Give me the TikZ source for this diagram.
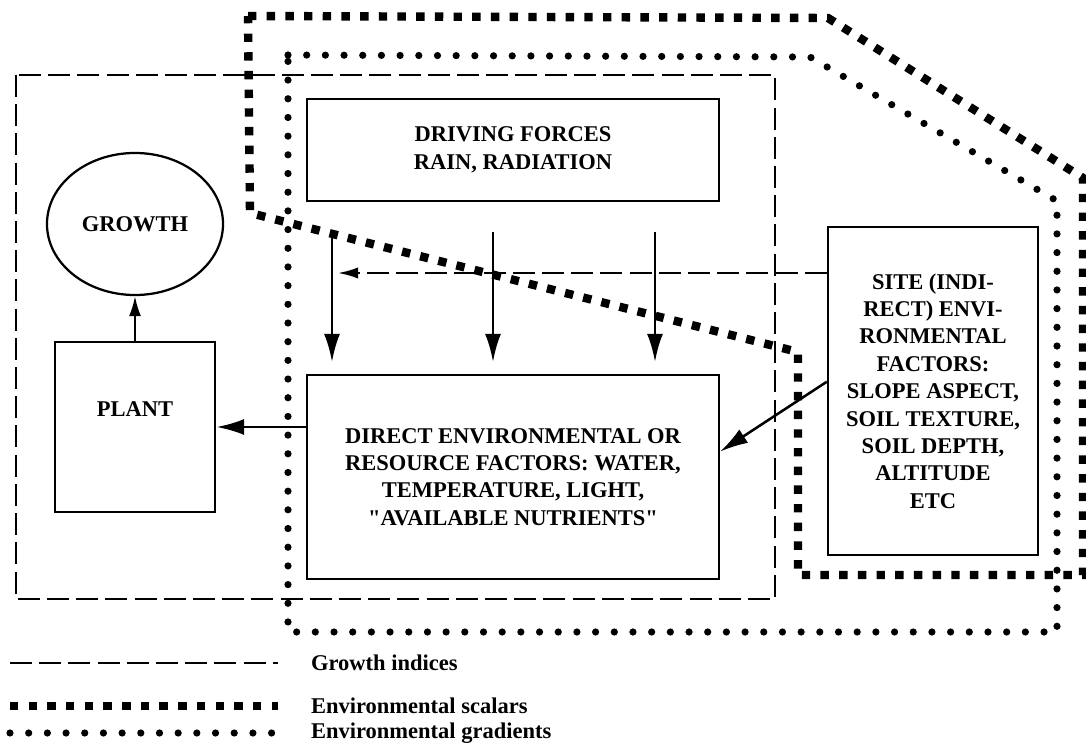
\documentclass[tikz,border=0pt]{standalone}
\usepackage{fontspec}
\setmainfont{Liberation Serif}
\usetikzlibrary{shapes.geometric}
\usetikzlibrary{arrows.meta}

\begin{document}
\begin{tikzpicture}
          [x=0.025cm, y=-0.025cm, line width=1.6pt,
           >={Latex[length=7mm,width=4mm]},
           box/.style = {draw, align=center, inner sep=0pt, font=\fontsize{16}{19.5}\selectfont\bfseries},
           growthline/.style = {line width=1.5pt, dash pattern=on 5.5mm off 1.8mm},
           scalarline/.style = {line width=2.1mm, dash pattern=on 2.1mm off 2.57mm},
           gradientline/.style = {line width=1.8mm, line cap=round, dash pattern=on 0pt off 4.67mm},
           legend/.style = {anchor=west, inner sep=0pt, font=\fontsize{16}{19.5}\selectfont\bfseries}]
          \useasboundingbox (0,0) rectangle (1086,747);

          % regions
          \draw[growthline] (16,75) rectangle (775,599);
          \draw[scalarline] (248,16) -- (828,18) -- (1083,178) -- (1083,575) -- (798,575) -- (798,352) -- (250,213) -- cycle;
          \draw[gradientline] (288,55) -- (810,57) -- (1057,201) -- (1057,632) -- (288,632) -- cycle;

          % boxes
          \node[box, ellipse, minimum width=44mm, minimum height=35.5mm] (growth) at (135,224) {GROWTH};
          \node[box, minimum width=40mm, minimum height=42.5mm, text depth=9mm] (plant) at (135,427) {PLANT};
          \node[box, minimum width=103mm, minimum height=25.5mm] (driving) at (513,150) {DRIVING FORCES\\RAIN, RADIATION};
          \node[box, minimum width=103mm, minimum height=51mm] (direct) at (513,477)
               {DIRECT ENVIRONMENTAL OR\\RESOURCE FACTORS: WATER,\\TEMPERATURE, LIGHT,\\\textquotedbl AVAILABLE NUTRIENTS\textquotedbl};
          \node[box, minimum width=52.5mm, minimum height=82mm] (site) at (933,391)
               {SITE (INDI-\\RECT) ENVI-\\RONMENTAL\\FACTORS:\\SLOPE ASPECT,\\SOIL TEXTURE,\\SOIL DEPTH,\\ALTITUDE\\ETC};
          \coordinate (sitetip) at (338,273);

          % connectors
          \draw[->, >={Latex[length=5mm,width=3mm]}] (plant) -- (growth);
          \draw[->, line width=2pt] (direct.west |- plant.east) -- (plant.east);
          \foreach \x in {332,493,655}
            \draw[->, line width=1.8pt, shorten <=7.5mm, shorten >=3mm] (driving.south -| \x,0) -- (direct.north -| \x,0);
          \draw[->, growthline, >={Latex[length=5mm,width=2.8mm]}] (site.west |- sitetip) -- (sitetip);
          \draw[->, line width=1.8pt] (site.175) -- (direct.7);

          % legend
          \draw[growthline] (10,663) -- (278,663);
          \draw[scalarline] (10,706) -- (278,706);
          \draw[gradientline] (10,733) -- (282,733);
          \node[legend] (indices) at (310,663) {Growth indices};
          \node[legend] (scalars) at (310,706) {Environmental scalars};
          \node[legend] (gradients) at (310,733) {Environmental gradients};
\end{tikzpicture}
\end{document}
